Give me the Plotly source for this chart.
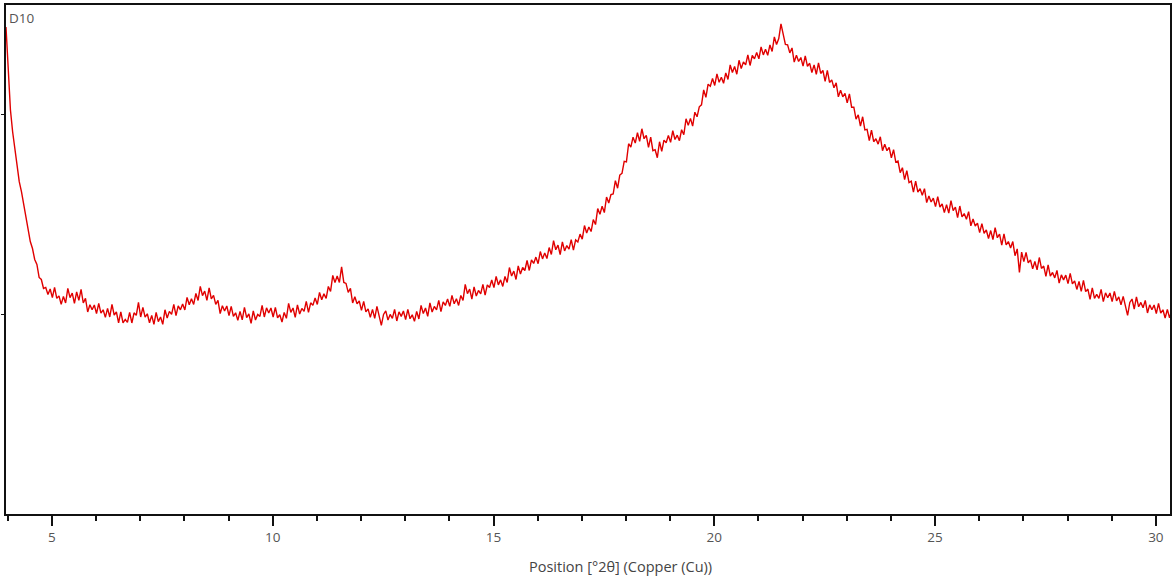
import numpy as np
import plotly.graph_objects as go

# Scan settings (°2θ)
two_theta_start = 3.96
two_theta_step = 0.05

# Measured intensity (counts), one value per scan step
intensity = [
    2440, 2230, 2025, 1915, 1830, 1740, 1665, 1615, 1555, 1480,
    1440, 1365, 1330, 1275, 1250, 1185, 1175, 1130, 1135, 1100,
    1127, 1084, 1135, 1080, 1093, 1050, 1090, 1057, 1130, 1084,
    1107, 1055, 1113, 1070, 1125, 1057, 1080, 1012, 1048, 1023,
    1047, 1004, 1055, 1006, 1023, 985, 1030, 987, 1050, 997,
    1012, 957, 1013, 958, 975, 960, 1010, 957, 1008, 995,
    1060, 987, 1035, 986, 1003, 958, 995, 950, 1010, 964,
    987, 950, 1023, 982, 1015, 1000, 1050, 994, 1043, 1023,
    1052, 1022, 1085, 1048, 1078, 1050, 1105, 1070, 1140, 1094,
    1117, 1070, 1133, 1078, 1095, 1050, 1070, 1004, 1043, 1017,
    1042, 994, 1040, 990, 1008, 970, 1015, 973, 1035, 984,
    1002, 955, 1018, 972, 1000, 990, 1045, 987, 1033, 1007,
    1032, 987, 1035, 983, 998, 962, 1010, 980, 1055, 1010,
    1032, 985, 1048, 1002, 1030, 1015, 1065, 1010, 1058, 1045,
    1082, 1050, 1110, 1073, 1103, 1080, 1140, 1115, 1195, 1160,
    1192, 1160, 1238, 1160, 1155, 1110, 1130, 1057, 1088, 1053,
    1067, 1020, 1065, 1013, 1028, 985, 1025, 980, 1040, 984,
    945, 1000, 1018, 972, 1000, 980, 1025, 967, 1013, 990,
    1017, 974, 1025, 978, 998, 965, 1015, 977, 1045, 1004,
    1032, 990, 1058, 1012, 1040, 1023, 1070, 1014, 1063, 1045,
    1077, 1040, 1095, 1053, 1078, 1045, 1095, 1070, 1150, 1104,
    1127, 1077, 1138, 1092, 1120, 1103, 1150, 1097, 1148, 1135,
    1172, 1134, 1190, 1148, 1173, 1140, 1190, 1160, 1235, 1192,
    1217, 1175, 1243, 1202, 1235, 1220, 1270, 1220, 1273, 1255,
    1287, 1254, 1315, 1278, 1308, 1280, 1335, 1300, 1370, 1324,
    1347, 1300, 1363, 1318, 1345, 1327, 1375, 1322, 1373, 1363,
    1402, 1377, 1445, 1408, 1438, 1415, 1475, 1450, 1530, 1502,
    1542, 1510, 1588, 1558, 1600, 1603, 1670, 1632, 1698, 1707,
    1767, 1764, 1855, 1838, 1888, 1858, 1910, 1867, 1930, 1880,
    1897, 1837, 1888, 1820, 1825, 1785, 1865, 1817, 1873, 1860,
    1897, 1862, 1920, 1876, 1898, 1870, 1925, 1900, 1980, 1947,
    1982, 1943, 2013, 1990, 2040, 2050, 2125, 2087, 2153, 2143,
    2182, 2147, 2205, 2163, 2188, 2158, 2210, 2177, 2250, 2212,
    2242, 2203, 2273, 2232, 2265, 2250, 2300, 2247, 2298, 2280,
    2312, 2280, 2340, 2300, 2328, 2298, 2350, 2317, 2390, 2352,
    2382, 2455, 2400, 2352, 2350, 2310, 2335, 2264, 2298, 2267,
    2287, 2244, 2295, 2243, 2258, 2212, 2250, 2203, 2260, 2207,
    2222, 2167, 2223, 2162, 2175, 2135, 2160, 2090, 2123, 2090,
    2107, 2060, 2105, 2038, 2038, 1978, 2000, 1943, 1990, 1924,
    1927, 1870, 1923, 1865, 1880, 1853, 1890, 1820, 1853, 1820,
    1837, 1784, 1825, 1763, 1768, 1710, 1735, 1675, 1720, 1660,
    1667, 1613, 1668, 1612, 1630, 1597, 1630, 1560, 1593, 1563,
    1582, 1540, 1590, 1538, 1553, 1510, 1550, 1507, 1570, 1520,
    1537, 1485, 1543, 1488, 1505, 1477, 1515, 1444, 1478, 1443,
    1457, 1410, 1455, 1406, 1423, 1380, 1420, 1375, 1435, 1384,
    1402, 1347, 1403, 1348, 1365, 1333, 1365, 1294, 1328, 1210,
    1312, 1264, 1310, 1258, 1273, 1228, 1265, 1223, 1285, 1230,
    1242, 1190, 1248, 1192, 1210, 1183, 1220, 1157, 1198, 1173,
    1197, 1154, 1205, 1153, 1168, 1125, 1165, 1115, 1170, 1114,
    1127, 1075, 1133, 1080, 1100, 1080, 1125, 1064, 1108, 1083,
    1107, 1064, 1115, 1068, 1088, 1048, 1090, 1047, 995, 1060,
    1077, 1027, 1088, 1038, 1060, 1033, 1070, 1007, 1048, 1023,
    1047, 1004, 1055, 1006, 1023, 982, 1025, 983, 1020,
]

two_theta = two_theta_start + two_theta_step * np.arange(len(intensity))

# Axis settings
x_range = [3.96, 30.32]
y_range = [0, 2550]
x_major_ticks = [5, 10, 15, 20, 25, 30]
y_ticks = [1000, 2000]
sample_name = "D10"
x_title = "Position [°2θ] (Copper (Cu))"

fig = go.Figure()
fig.add_trace(go.Scatter(
    x=two_theta,
    y=intensity,
    mode="lines",
    line=dict(color="#e00000", width=1.4),
    showlegend=False,
    hoverinfo="x+y",
))

fig.update_layout(
    width=1175,
    height=581,
    margin=dict(l=6, r=3, t=5, b=67),
    paper_bgcolor="white",
    plot_bgcolor="white",
    font=dict(family="Open Sans, sans-serif", color="#555555"),
    xaxis=dict(
        range=x_range,
        tickvals=x_major_ticks,
        ticktext=[str(v) for v in x_major_ticks],
        ticks="outside",
        ticklen=10,
        tickwidth=2,
        tickcolor="#111111",
        tickfont=dict(size=13.5, color="#555555"),
        minor=dict(dtick=1, tick0=0, ticks="outside", ticklen=5,
                   tickwidth=2, tickcolor="#111111", showgrid=False),
        showline=True,
        linewidth=2,
        linecolor="#111111",
        mirror=True,
        showgrid=False,
        zeroline=False,
    ),
    yaxis=dict(
        range=y_range,
        tickvals=y_ticks,
        showticklabels=False,
        ticks="outside",
        ticklen=3,
        tickwidth=1,
        tickcolor="#111111",
        showline=True,
        linewidth=2,
        linecolor="#111111",
        mirror=True,
        showgrid=False,
        zeroline=False,
    ),
    annotations=[
        dict(
            text=sample_name,
            xref="paper", yref="paper",
            x=0, y=1,
            xanchor="left", yanchor="top",
            xshift=1, yshift=-2,
            showarrow=False,
            font=dict(size=13.5, color="#555555"),
        ),
        dict(
            text=x_title,
            xref="paper", yref="paper",
            x=0.528, y=-0.104,
            xanchor="center", yanchor="middle",
            showarrow=False,
            font=dict(size=14.5, color="#444444"),
        ),
    ],
)

fig.write_html("out.html")
